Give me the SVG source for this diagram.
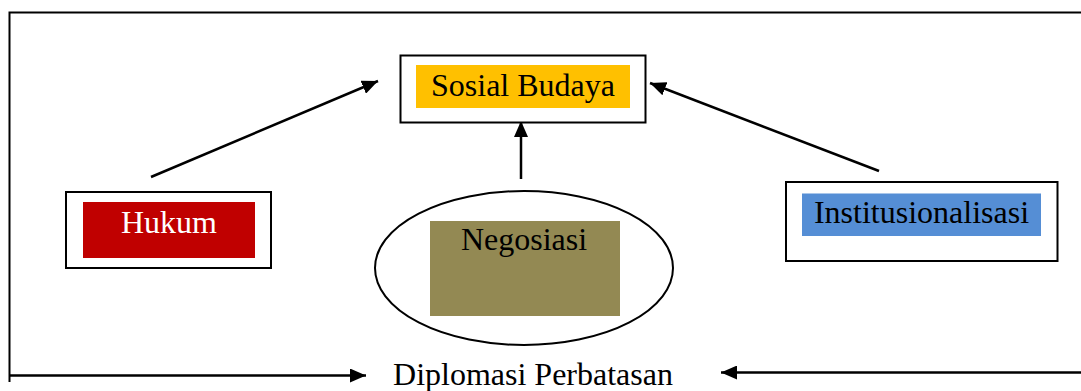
<svg xmlns="http://www.w3.org/2000/svg" width="1081" height="391" viewBox="0 0 1081 391">
<style>
.frame{fill:#fff;stroke:#000;stroke-width:2}
.line{fill:none;stroke:#000;stroke-width:2}
.conn{fill:none;stroke:#000;stroke-width:2.5;marker-end:url(#ah)}
.t{font-family:"Liberation Serif","Times New Roman",serif;font-size:32px;fill:#000;text-anchor:middle}
</style>
<defs>
<marker id="ah" markerUnits="userSpaceOnUse" markerWidth="17" markerHeight="14" refX="16" refY="7" orient="auto">
<path d="M0,0 L16,7 L0,14 z" fill="#000"/>
</marker>
</defs>
<rect width="1081" height="391" fill="#fff"/>
<g id="frame">
<path class="line" d="M1081,12.5 H9.5 V382"/>
</g>
<g id="connectors">
<line class="conn" x1="151" y1="177" x2="378" y2="81"/>
<line class="conn" x1="521" y1="179" x2="521" y2="121"/>
<line class="conn" x1="879" y1="171" x2="650" y2="83"/>
<line class="conn" x1="10" y1="375.5" x2="366" y2="375.5"/>
<line class="conn" x1="1081" y1="372.5" x2="721" y2="372.5"/>
</g>
<g id="sosial-budaya">
<rect class="frame" x="400.5" y="55.5" width="245" height="67"/>
<rect x="416" y="65" width="214" height="43" fill="#FFC000"/>
<text class="t" x="523" y="96">Sosial Budaya</text>
</g>
<g id="hukum">
<rect class="frame" x="66" y="192" width="205" height="76"/>
<rect x="83" y="202" width="172" height="56" fill="#C00000"/>
<text class="t" x="169" y="233" style="fill:#fff">Hukum</text>
</g>
<g id="institusionalisasi">
<rect class="frame" x="786" y="182" width="271.5" height="79"/>
<rect x="802" y="193.5" width="239" height="42.5" fill="#558ED5"/>
<text class="t" x="921.5" y="223">Institusionalisasi</text>
</g>
<g id="negosiasi">
<ellipse cx="524" cy="268" rx="149" ry="77" fill="#fff" stroke="#000" stroke-width="2"/>
<rect x="430" y="221" width="190" height="95" fill="#938953"/>
<text class="t" x="524" y="250">Negosiasi</text>
</g>
<g id="diplomasi">
<text class="t" x="533" y="385">Diplomasi Perbatasan</text>
</g>
</svg>
